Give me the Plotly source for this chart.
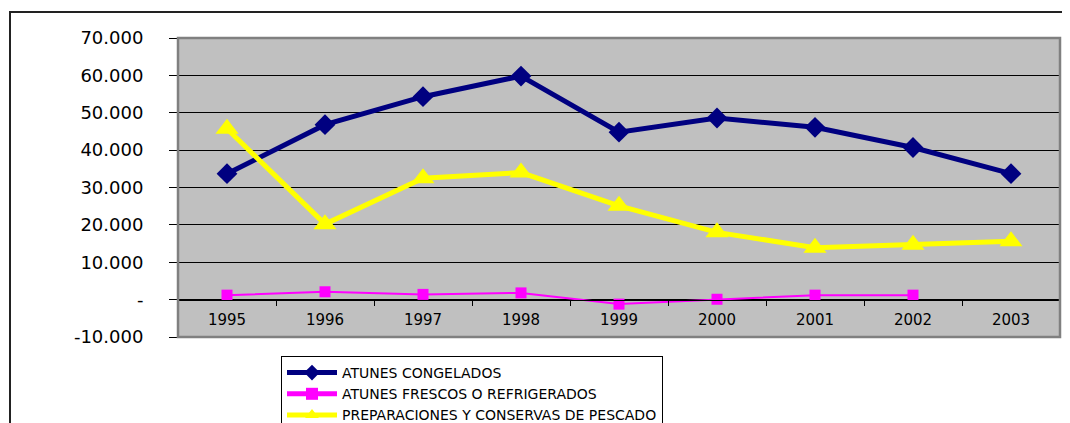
import plotly.graph_objects as go

years = ["1995", "1996", "1997", "1998", "1999", "2000", "2001", "2002", "2003"]
congelados = [33700, 46800, 54300, 59800, 44800, 48600, 46100, 40700, 33700]
frescos = [1200, 2100, 1400, 1800, -1200, 100, 1200, 1200, None]
preparaciones = [45700, 20200, 32500, 34000, 25100, 18000, 13900, 14700, 15600]

ytick_vals = [-10000, 0, 10000, 20000, 30000, 40000, 50000, 60000, 70000]
ytick_text = ["-10.000", "-", "10.000", "20.000", "30.000", "40.000", "50.000", "60.000", "70.000"]

FONT = "DejaVu Sans"

fig = go.Figure()
fig.add_trace(go.Scatter(
    x=years, y=congelados, name="ATUNES CONGELADOS", mode="lines+markers",
    line=dict(color="#000080", width=5),
    marker=dict(symbol="diamond", size=16, color="#000080"),
))
fig.add_trace(go.Scatter(
    x=years, y=frescos, name="ATUNES FRESCOS O REFRIGERADOS", mode="lines+markers",
    line=dict(color="#FF00FF", width=2),
    marker=dict(symbol="square", size=11, color="#FF00FF"),
))
fig.add_trace(go.Scatter(
    x=years, y=preparaciones, name="PREPARACIONES Y CONSERVAS DE PESCADO", mode="lines+markers",
    line=dict(color="#FFFF00", width=5),
    marker=dict(symbol="triangle-up", size=20, color="#FFFF00"),
))

fig.update_layout(
    width=1070, height=423,
    margin=dict(l=170, r=18, t=30, b=94, autoexpand=False),
    paper_bgcolor="white",
    plot_bgcolor="#C0C0C0",
    font=dict(family=FONT, color="black"),
    showlegend=True,
    legend=dict(
        x=(273 - 170) / 882, y=-(348 - 329) / 299,
        xanchor="left", yanchor="top",
        bgcolor="white", bordercolor="black", borderwidth=1,
        font=dict(family=FONT, size=14, color="black"),
        itemwidth=50, tracegroupgap=0, itemsizing="constant",
    ),
    xaxis=dict(
        type="category", range=[-0.5, 8.5],
        anchor="free", position=0.125,
        showline=True, linecolor="black", linewidth=1,
        ticks="outside", ticklen=5, tickcolor="black", tickson="boundaries",
        ticklabelstandoff=6,
        showgrid=False, zeroline=False,
        tickfont=dict(family=FONT, size=15, color="black"),
    ),
    yaxis=dict(
        range=[-10000, 70000],
        tickvals=ytick_vals, ticktext=ytick_text,
        showgrid=True, gridcolor="black", gridwidth=1,
        zeroline=True, zerolinecolor="black", zerolinewidth=1,
        showline=True, linecolor="black", linewidth=1,
        ticks="outside", ticklen=8, tickcolor="black",
        ticklabelstandoff=22,
        tickfont=dict(family=FONT, size=18, color="black"),
    ),
    shapes=[
        dict(type="rect", xref="paper", yref="paper", x0=0, x1=1, y0=0, y1=1,
             line=dict(color="#808080", width=2.5), layer="above"),
        dict(type="rect", xref="paper", yref="paper",
             x0=(2 - 170) / 882, x1=1.1, y0=-0.4, y1=(329 - 4) / 299,
             line=dict(color="#222222", width=2), layer="above"),
    ],
)

fig.write_html("out.html")
